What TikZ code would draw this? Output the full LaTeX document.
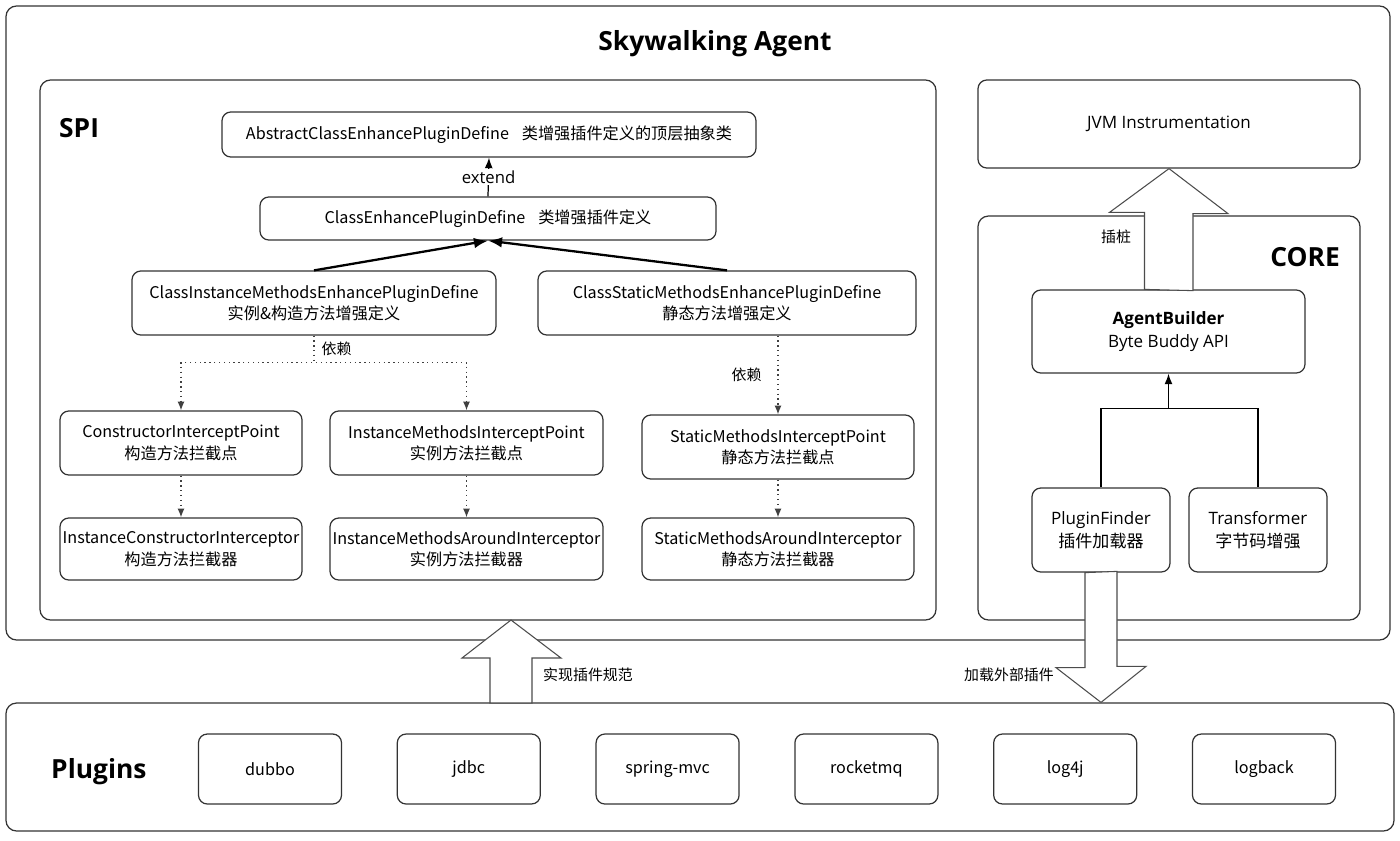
\documentclass[tikz,border=0pt]{standalone}
\usepackage{fontspec}
\setmainfont{Open Sans}
\newfontfamily\cjk{Noto Sans CJK SC}
\usetikzlibrary{arrows.meta, positioning, calc}

\begin{document}
\begin{tikzpicture}[x=0.02cm, y=-0.02cm,
    frame/.style={draw=black!80, line width=0.7pt, rounded corners=6pt, inner sep=0pt},
    box/.style={draw=black!80, line width=0.7pt, rounded corners=5pt, align=center, inner sep=0pt, font=\fontsize{9.7}{13}\selectfont},
    cn/.style={font=\cjk\fontsize{9.2}{12.2}\selectfont},
    sz/.style 2 args={minimum width=#1*0.02cm, minimum height=#2*0.02cm},
    head/.style={font=\bfseries\fontsize{15}{18}\selectfont},
    lbl/.style={font=\cjk\fontsize{8.5}{10}\selectfont, inner sep=1pt},
    dep/.style={dotted, draw=black!75, line width=0.75pt, -{Latex[length=5pt,width=4pt]}},
    ext/.style={line width=0.7pt, -{Latex[length=6pt,width=4.5pt]}},
    big/.style={draw=black!70, line width=0.6pt, fill=white}]
    \useasboundingbox (0,0) rectangle (1400,840);

    \node[frame, sz={1384}{634}] (agent) at (698,323) {};
    \node[head] (title) at (715,44) {Skywalking Agent};
    \node[frame, sz={896}{540}] (spi) at (488,350) {};
    \node[head, anchor=west] (spit) at (53,128) {SPI};
    \node[box, sz={382}{88}] (jvm) at (1169,124) {JVM Instrumentation};
    \node[frame, sz={382}{404}] (core) at (1169,418) {};
    \node[head, anchor=east] (coret) at (1346,257) {CORE};
    \node[frame, sz={1388}{128}] (plugins) at (700,767) {};
    \node[head, anchor=west] (plgt) at (45,772) {Plugins};

    \node[box, cn, sz={534}{45}] (acd) at (489,134.5) {AbstractClassEnhancePluginDefine\hspace{0.8em}类增强插件定义的顶层抽象类};
    \node[box, cn, sz={456}{43}] (ced) at (488,218.5) {ClassEnhancePluginDefine\hspace{0.8em}类增强插件定义};
    \node[box, cn, sz={364}{64}] (cim) at (314,303) {ClassInstanceMethodsEnhancePluginDefine\\实例\&构造方法增强定义};
    \node[box, cn, sz={378}{64}] (csm) at (727,303) {ClassStaticMethodsEnhancePluginDefine\\静态方法增强定义};
    \node[box, cn, sz={242}{64}] (cip) at (181,443) {ConstructorInterceptPoint\\构造方法拦截点};
    \node[box, cn, sz={273}{64}] (imip) at (466.5,443) {InstanceMethodsInterceptPoint\\实例方法拦截点};
    \node[box, cn, sz={272}{64}] (sip) at (778,447) {StaticMethodsInterceptPoint\\静态方法拦截点};
    \node[box, cn, sz={242}{62}] (ici) at (181,549) {InstanceConstructorInterceptor\\构造方法拦截器};
    \node[box, cn, sz={273}{62}] (imai) at (466.5,549) {InstanceMethodsAroundInterceptor\\实例方法拦截器};
    \node[box, cn, sz={272}{62}] (smai) at (778,549) {StaticMethodsAroundInterceptor\\静态方法拦截器};

    \node[box, sz={273}{83}] (ab) at (1168.5,331.5) {\textbf{AgentBuilder}\\Byte Buddy API};
    \node[box, sz={138}{84}] (pf) at (1101,530) {PluginFinder\\{\cjk 插件加载器}};
    \node[box, sz={138}{84}] (tf) at (1258,530) {Transformer\\{\cjk 字节码增强}};

    \foreach \name [count=\i from 0] in {dubbo, jdbc, spring-mvc, rocketmq, log4j, logback}
        \node[box, cn, sz={143}{70}] (p\i) at (270+198.8*\i, 769) {\name};

    \draw[ext] (ced.north) -- node[fill=white, inner sep=1pt, font=\fontsize{9.5}{10}\selectfont] {extend} (acd.south);
    \draw[line width=1.3pt, -{Latex[length=8pt,width=6pt]}] (cim.north) -- (ced.south);
    \draw[line width=1.3pt, -{Latex[length=8pt,width=6pt]}] (csm.north) -- (ced.south);

    \draw[dep] (cim.south) -- node[lbl, right=3pt] {依赖} ++(0,27) -| (cip.north);
    \draw[dep] (cim.south) -- ++(0,27) -| (imip.north);
    \draw[dep] (sip.north |- csm.south) -- node[lbl, left=8pt] {依赖} (sip.north);
    \draw[dep] (cip.south) -- (ici.north);
    \draw[dep] (imip.south) -- (imai.north);
    \draw[dep] (sip.south) -- (smai.north);

    \coordinate (join) at ($(ab.south)+(0,35)$);
    \draw[line width=0.7pt] (pf.north) |- (join) -| (tf.north);
    \draw[ext] (join) -- (ab.south);

    \draw[big] ($(ab.north)+(-24,0)$) -- ++(0,-77) -- ++(-35,0) -- (jvm.south) -- ++(59,45) -- ++(-35,0) -- ++(0,77) -- cycle;
    \node[lbl] (cz) at (1116,237) {插桩};

    \coordinate (dtip) at (pf.south |- plugins.north);
    \draw[big] ($(pf.south)+(-16,0)$) -- ++(0,95) -- ++(-29,0) -- (dtip) -- ++(45,-36) -- ++(-29,0) -- ++(0,-95) -- cycle;
    \node[lbl] (load) at (1009,675) {加载外部插件};

    \coordinate (utip) at (511,620);
    \draw[big] (490,703) -- (490,658) -- (462,658) -- (utip) -- (561,658) -- (532,658) -- (532,703) -- cycle;
    \node[lbl] (impl) at (588,675) {实现插件规范};
\end{tikzpicture}
\end{document}
